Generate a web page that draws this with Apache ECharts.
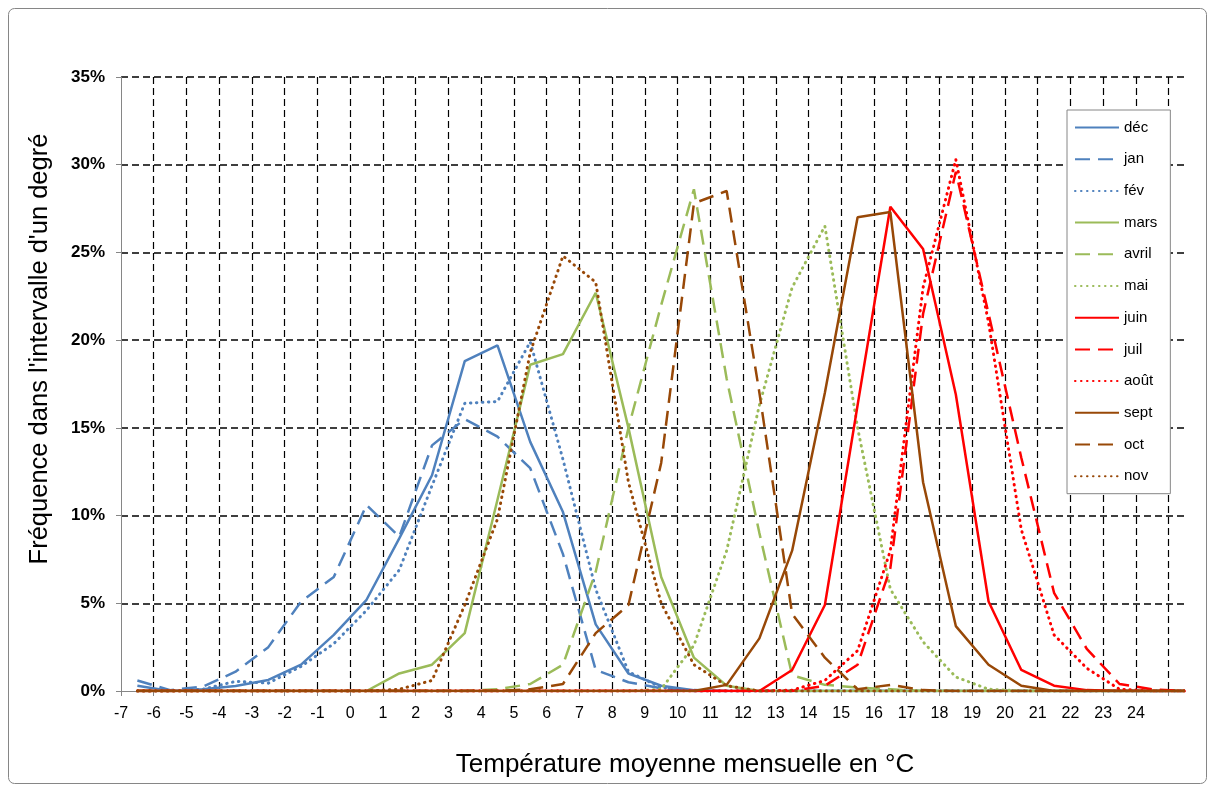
<!DOCTYPE html>
<html>
<head>
<meta charset="utf-8">
<script src="https://cdn.jsdelivr.net/npm/echarts@6/dist/echarts.min.js"></script>
<style>
html,body{margin:0;padding:0;background:#fff;}
#chart{width:1215px;height:792px;}
</style>
</head>
<body>
<div id="chart"></div>
<script>
// Bin centres (°C) of the one-degree intervals
const temps = [-6.5,-5.5,-4.5,-3.5,-2.5,-1.5,-0.5,0.5,1.5,2.5,3.5,4.5,5.5,6.5,7.5,8.5,9.5,10.5,11.5,12.5,13.5,14.5,15.5,16.5,17.5,18.5,19.5,20.5,21.5,22.5,23.5,24.5,25.5];

// Frequencies (%) per month
const dec   = [0.3,0,0.1,0.28,0.63,1.5,3.2,5.2,8.7,12.3,18.8,19.7,14.2,10.2,3.8,1.0,0.3,0.05,0,0,0,0,0,0,0,0,0,0,0,0,0,0,0];
const jan   = [0.6,0.05,0.25,1.1,2.5,5.1,6.5,10.6,8.8,14.0,15.5,14.5,12.7,7.8,1.2,0.5,0.15,0,0,0,0,0,0,0,0,0,0,0,0,0,0,0,0];
const fev   = [0,0,0.1,0.55,0.45,1.4,2.7,4.6,6.9,11.7,16.4,16.5,19.9,13.2,5.8,1.1,0.2,0,0,0,0,0,0,0,0,0,0,0,0,0,0,0,0];
const mars  = [0,0,0,0,0,0,0,0,1.0,1.5,3.3,10.9,18.6,19.2,22.7,15.0,6.5,1.9,0.3,0,0,0,0,0,0,0,0,0,0,0,0,0,0];
const avril = [0,0,0,0,0,0,0,0,0,0,0,0.1,0.4,1.5,6.8,15.0,22.0,28.6,17.8,9.0,0.9,0.35,0.2,0.1,0,0,0,0,0,0,0,0,0];
const mai   = [0,0,0,0,0,0,0,0,0,0,0,0,0,0,0,0,0.1,2.6,8.0,16.3,23.0,26.5,15.0,5.8,2.8,0.8,0.1,0,0,0,0,0,0];
const juin  = [0,0,0,0,0,0,0,0,0,0,0,0,0,0,0,0,0,0,0,0,1.2,4.9,16.3,27.6,25.2,16.9,5.1,1.2,0.3,0.05,0,0,0];
const juil  = [0,0,0,0,0,0,0,0,0,0,0,0,0,0,0,0,0,0,0,0,0,0.3,1.5,7.0,21.5,29.6,21.5,13.3,5.6,2.4,0.4,0.1,0];
const aout  = [0,0,0,0,0,0,0,0,0,0,0,0,0,0,0,0,0,0,0,0,0.05,0.6,2.3,8.0,23.0,30.3,21.0,9.2,3.2,1.3,0.1,0,0];
const sept  = [0,0,0,0,0,0,0,0,0,0,0,0,0,0,0,0,0,0,0.35,3.0,8.0,17.0,27.0,27.3,11.9,3.7,1.5,0.3,0,0,0,0,0];
const oct   = [0,0,0,0,0,0,0,0,0,0,0,0,0.1,0.4,3.3,4.9,13.0,27.8,28.5,17.0,4.4,1.9,0.1,0.35,0.05,0,0,0,0,0,0,0,0];
const nov   = [0,0,0,0,0,0,0,0,0.1,0.6,4.9,9.8,19.3,24.8,23.3,11.9,5.0,1.5,0.3,0,0,0,0,0,0,0,0,0,0,0,0,0,0];

const monthNames = ['déc','jan','fév','mars','avril','mai','juin','juil','août','sept','oct','nov'];
const monthValues = [dec,jan,fev,mars,avril,mai,juin,juil,aout,sept,oct,nov];

// Axis ticks
const xMin = -7, xMax = 25.5, xStep = 1, xLastLabel = 24;
const yMin = 0, yMax = 35, yStep = 5;

// Styles (kept apart from data)
const BLUE = '#4F81BD', GREEN = '#9BBB59', RED = '#FF0000', BROWN = '#984807';
const colors = [BLUE,BLUE,BLUE,GREEN,GREEN,GREEN,RED,RED,RED,BROWN,BROWN,BROWN];
const DASH = [15, 8], DOT = [0.5, 5.5];
const kinds = ['solid','dash','dot'];
const FONT = '"Liberation Sans", Arial, sans-serif';

const series = monthNames.map((name, k) => {
  const kind = kinds[k % 3];
  return {
    type: 'line',
    name: name,
    data: temps.map((t, i) => [t, monthValues[k][i]]),
    symbol: 'none',
    smooth: false,
    lineStyle: {
      color: colors[k],
      width: kind === 'dot' ? 3 : 2.5,
      type: kind === 'solid' ? 'solid' : (kind === 'dash' ? DASH : DOT),
      cap: kind === 'dot' ? 'round' : 'butt'
    },
    itemStyle: { color: colors[k] },
    emphasis: { disabled: true },
    z: 2
  };
});

const chart = echarts.init(document.getElementById('chart'), null, { renderer: 'canvas' });
chart.setOption({
  animation: false,
  backgroundColor: '#fff',
  textStyle: { fontFamily: FONT },
  grid: { left: 121, right: 30, top: 77, bottom: 101 },
  xAxis: {
    type: 'value',
    min: xMin, max: xMax, interval: xStep,
    axisLine: { show: true, onZero: false, lineStyle: { color: '#868686', width: 1 } },
    axisTick: { show: true, length: 5, lineStyle: { color: '#868686' } },
    axisLabel: {
      margin: 15, fontSize: 16, color: '#000', fontFamily: FONT,
      showMaxLabel: false,
      formatter: v => (v > xLastLabel || v !== Math.round(v)) ? '' : String(v)
    },
    splitLine: { show: true, showMinLine: false, showMaxLine: false,
      lineStyle: { color: '#000', type: [7, 4], width: 1.2 } }
  },
  yAxis: {
    type: 'value',
    min: yMin, max: yMax, interval: yStep,
    axisLine: { show: true, onZero: false, lineStyle: { color: '#868686', width: 1 } },
    axisTick: { show: true, length: 5, lineStyle: { color: '#868686' } },
    axisLabel: { formatter: '{value}%', fontSize: 17, fontWeight: 'bold', color: '#000', margin: 16, fontFamily: FONT },
    splitLine: { show: true, showMinLine: false,
      lineStyle: { color: '#000', type: [7, 4], width: 1.5 } }
  },
  legend: {
    orient: 'vertical',
    left: 1067, top: 110,
    itemWidth: 44, itemHeight: 14, itemGap: 16.7,
    padding: [10, 13, 10, 7],
    backgroundColor: '#fff',
    borderColor: '#868686', borderWidth: 1,
    itemStyle: { opacity: 0, borderWidth: 0 },
    textStyle: { fontSize: 15, color: '#000', fontFamily: FONT },
    data: monthNames,
    z: 10
  },
  graphic: [
    { type: 'rect', silent: true, z: -1,
      shape: { x: 8.5, y: 8.5, width: 1198, height: 775, r: 6 },
      style: { fill: 'none', stroke: '#868686', lineWidth: 1 } },
    { type: 'text', silent: true, x: 40, y: 349, rotation: Math.PI / 2,
      style: { text: "Fréquence dans l'intervalle d'un degré", fontSize: 25.5, fontFamily: FONT,
        fill: '#000', textAlign: 'center', textVerticalAlign: 'middle' } },
    { type: 'text', silent: true, x: 685, y: 765,
      style: { text: 'Température moyenne mensuelle en °C', fontSize: 26, fontFamily: FONT,
        fill: '#000', textAlign: 'center', textVerticalAlign: 'middle' } }
  ],
  series: series
});
</script>
</body>
</html>
